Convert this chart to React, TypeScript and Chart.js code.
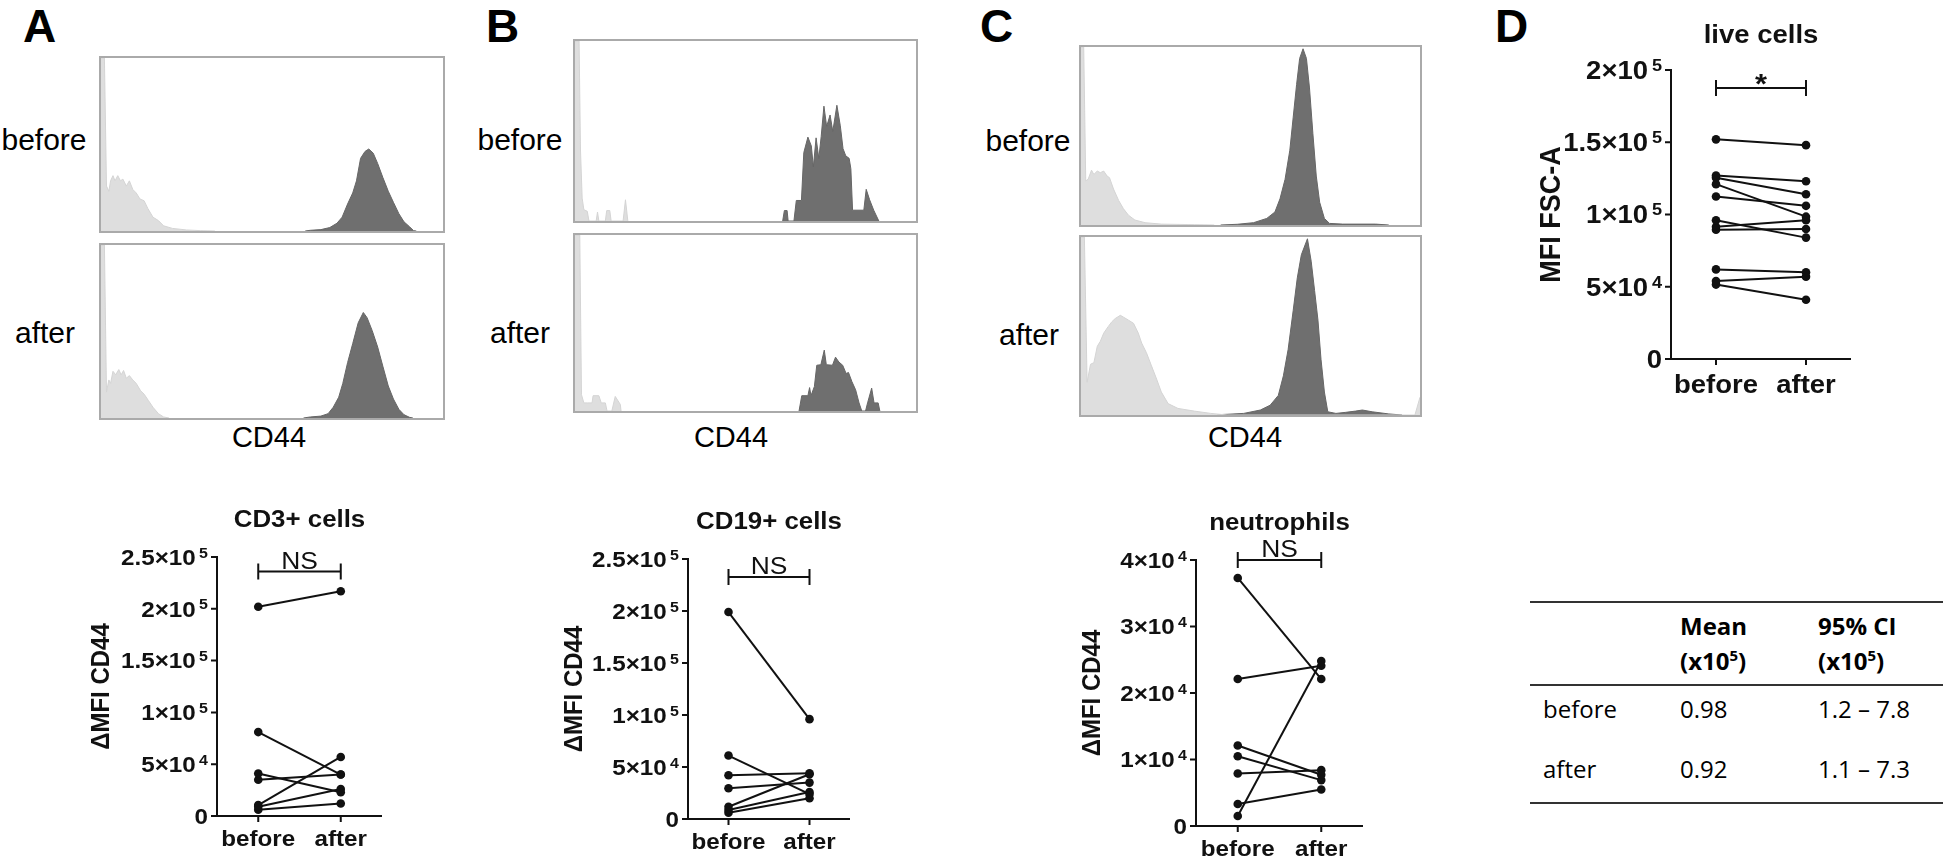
import React, { useEffect, useRef } from "react";
import { Chart, registerables } from "chart.js";

Chart.register(...registerables);

// ---------------- DATA ----------------
const categories = ["before", "after"];

// Panel A – CD3+ cells (ΔMFI CD44)
const cd3Before = [202000, 81000, 41000, 35000, 10500, 9000, 6000];
const cd3After = [217000, 40000, 23000, 40000, 57000, 26000, 12000];
// Panel B – CD19+ cells
const cd19Before = [199000, 61000, 42000, 29500, 11800, 8700, 6000];
const cd19After = [96000, 24000, 44000, 35000, 43000, 26000, 20000];
// Panel C – neutrophils
const neutBefore = [37300, 22100, 12100, 10500, 7900, 3300, 1500];
const neutAfter = [22100, 24100, 7700, 6900, 8400, 5500, 24800];
// Panel D – live cells (MFI FSC-A)
const liveBefore = [152000, 127000, 125500, 121000, 112500, 96000, 91500, 89500, 62000, 54000, 51500];
const liveAfter = [148000, 123000, 114000, 98500, 106000, 84000, 96000, 90000, 60000, 57000, 41000];

const ticks250k = [0, 50000, 100000, 150000, 200000, 250000];
const tickLabels250k = ["0", "5×10⁴", "1×10⁵", "1.5×10⁵", "2×10⁵", "2.5×10⁵"];
const ticks40k = [0, 10000, 20000, 30000, 40000];
const tickLabels40k = ["0", "1×10⁴", "2×10⁴", "3×10⁴", "4×10⁴"];
const ticks200k = [0, 50000, 100000, 150000, 200000];
const tickLabels200k = ["0", "5×10⁴", "1×10⁵", "1.5×10⁵", "2×10⁵"];

// significance brackets (value on y axis, label)
const sigCD3 = { value: 236000, label: "NS" };
const sigCD19 = { value: 232700, label: "NS" };
const sigNeut = { value: 40000, label: "NS" };
const sigLive = { value: 187500, label: "*" };

// Histograms: [channel (0..1000), % of max]
const histABeforeCtrl = [[0,100],[10,100],[16,26],[23,23],[28,29],[35,32],[41,29],[49,32],[57,29],[64,30],[74,26],[83,29],[93,24],[103,22],[114,18.5],[126,17.5],[137,13],[152,8],[168,6],[183,3],[209,1.5],[250,0.6],[292,0.2],[333,0]];
const histABeforeCD44 = [[597,0],[612,0.4],[643,0.8],[669,2],[690,4.5],[705,8],[721,15.6],[736,22],[747,29],[759,42],[772,46],[783,47.4],[796,45],[809,39],[824,31],[840,23],[855,16.6],[871,10],[886,5.3],[902,2.5],[914,0.2],[922,0]];
const histAAfterCtrl = [[0,100],[10,100],[16,15],[23,22],[28,20],[35,27],[43,25],[52,28],[59,25],[66,27.5],[74,23],[83,24.5],[93,22],[103,20],[116,15.7],[126,13.8],[139,10],[152,6.2],[168,2.5],[183,0.6],[199,0]];
const histAAfterCD44 = [[592,0],[612,0.6],[643,1.1],[664,2.5],[679,6.2],[695,12],[707,20],[721,32],[736,43],[752,55],[767,61],[778,58],[793,50.5],[809,41],[824,30],[840,18.5],[855,11],[871,5],[886,1.9],[902,0.4],[912,0]];

const histBBeforeCtrl = [[0,100],[12,100],[16,40],[21,12.7],[26,6.3],[36,5.4],[41,0],[62,0],[66,5],[70,0],[89,0],[93,5.8],[102,5.8],[106,0],[141,0],[148,11.8],[155,0]];
const histBBeforeCD44 = [[609,0],[614,5.8],[622,5.8],[625,0],[642,0],[649,11.4],[664,11.4],[671,38],[683,46.6],[693,41.7],[699,30],[707,46.2],[715,34.8],[722,47],[730,63.8],[738,52.5],[748,58.9],[756,49.8],[768,64.3],[778,52.9],[786,40.2],[794,36.2],[804,34.8],[809,29],[814,6],[847,6],[854,17.6],[864,11.8],[876,6],[891,0]];
const histBAfterCtrl = [[0,100],[14,100],[19,9.3],[26,4.6],[36,4.6],[50,4.6],[53,8.7],[70,8.7],[77,4.6],[89,4.6],[94,0],[108,0],[118,8.3],[133,3.7],[135,0]];
const histBAfterCD44 = [[657,0],[665,8.7],[683,8.7],[688,13.3],[692,8.7],[702,13.9],[709,26],[721,26.3],[731,34.6],[737,26.3],[755,26],[764,30.6],[774,27.8],[785,26],[795,21.3],[802,21.9],[812,16.7],[823,12],[833,4.6],[841,0],[852,0],[858,4.6],[870,13],[877,4.6],[889,4.6],[894,0]];

const histCBeforeCtrl = [[0,100],[8,100],[14,24.8],[21,25.7],[31,30.8],[38,28.4],[48,30.3],[57,29.4],[67,30.3],[77,27.5],[84,26.6],[96,20.2],[111,13.8],[125,9.2],[140,5.5],[159,2.8],[189,1.3],[237,0.5],[334,0.2],[393,0]];
const histCBeforeCD44 = [[412,0],[461,0.4],[509,1.3],[548,3.7],[572,7.3],[587,14.7],[602,25.7],[616,42],[626,60.6],[636,79],[645,93.6],[655,99],[665,93.6],[674,77],[684,51.4],[694,27.5],[704,12.8],[718,3.7],[733,0.9],[772,0.5],[869,0.5],[908,0]];
const histCAfterCtrl = [[0,100],[10,100],[18,18.4],[28,28.5],[38,29.4],[48,38.6],[57,41.4],[67,46],[80,49.6],[91,52.4],[101,54.2],[116,56],[125,55],[140,53.3],[155,51.5],[169,46],[179,40.4],[193,35],[208,27.6],[223,20.2],[237,12.9],[257,6.4],[286,3.7],[334,2.2],[383,0.9],[431,0],[985,0],[1000,10]];
const histCAfterCD44 = [[378,0],[431,0.4],[480,0.9],[529,2.8],[558,5.5],[582,11],[597,22],[611,36.8],[626,58.8],[638,77],[650,90],[668,99],[679,86.4],[689,70],[699,53.3],[708,31.3],[718,12.9],[728,1.8],[752,0.9],[781,1.5],[810,2.2],[830,2.8],[859,1.8],[908,0.6],[947,0]];

// ---------------- STYLE HELPERS ----------------
const FONT = '"Liberation Sans", Arial, Helvetica, sans-serif';
const SX = 1.1;
const SUP: Record<string, string> = { "⁰": "0", "¹": "1", "²": "2", "³": "3", "⁴": "4", "⁵": "5", "⁶": "6", "⁷": "7", "⁸": "8", "⁹": "9" };
const bold = (s: number) => `bold ${s}px ${FONT}`;
const reg = (s: number) => `${s}px ${FONT}`;

function drawText(ctx: any, s: string, x: number, y: number, font: string, align: string) {
  ctx.save();
  ctx.font = font;
  const w = ctx.measureText(s).width * SX;
  const left = align === "center" ? x - w / 2 : align === "right" ? x - w : x;
  ctx.translate(left, y);
  ctx.scale(SX, 1);
  ctx.textAlign = "left";
  ctx.textBaseline = "alphabetic";
  ctx.fillText(s, 0, 0);
  ctx.restore();
}

function drawSupLabel(ctx: any, label: string, xr: number, yc: number, size: number) {
  let i = label.length;
  while (i > 0 && SUP[label[i - 1]]) i--;
  const base = label.slice(0, i);
  const sup = label.slice(i).split("").map((c) => SUP[c]).join("");
  const supSize = size * 0.66;
  ctx.save();
  ctx.font = bold(size);
  const wb = ctx.measureText(base).width;
  ctx.font = bold(supSize);
  const ws = sup ? ctx.measureText(sup).width : 0;
  const gap = sup ? size * 0.14 : 0;
  const total = (wb + gap + ws) * SX;
  const capH = size * 0.716;
  ctx.translate(xr - total, 0);
  ctx.scale(SX, 1);
  ctx.textAlign = "left";
  ctx.textBaseline = "alphabetic";
  ctx.font = bold(size);
  ctx.fillText(base, 0, yc + capH / 2);
  if (sup) {
    ctx.font = bold(supSize);
    ctx.fillText(sup, wb + gap, yc - capH / 2 - 2 + supSize * 0.716);
  }
  ctx.restore();
}

function makePrism(cfg: any) {
  return {
    id: "prism",
    beforeDatasetsDraw(chart: any) {
      const { ctx, chartArea: ca, scales } = chart;
      const xs = scales.x;
      const ys = scales.y;
      const sz = cfg.sz;
      ctx.save();
      ctx.strokeStyle = "#111";
      ctx.fillStyle = "#111";
      ctx.lineWidth = 2;
      const yTop = ys.getPixelForValue(cfg.ticks[cfg.ticks.length - 1]);
      ctx.beginPath();
      ctx.moveTo(ca.left, yTop - 1);
      ctx.lineTo(ca.left, ca.bottom + 1);
      ctx.moveTo(ca.left - 1, ca.bottom);
      ctx.lineTo(ca.right, ca.bottom);
      cfg.ticks.forEach((v: number) => {
        const py = ys.getPixelForValue(v);
        ctx.moveTo(ca.left - 6, py);
        ctx.lineTo(ca.left, py);
      });
      categories.forEach((_c, i) => {
        const px = xs.getPixelForValue(i);
        ctx.moveTo(px, ca.bottom);
        ctx.lineTo(px, ca.bottom + 6);
      });
      ctx.stroke();
      cfg.ticks.forEach((v: number, i: number) => {
        drawSupLabel(ctx, cfg.tickLabels[i], ca.left - 9, ys.getPixelForValue(v), sz.tick);
      });
      categories.forEach((c, i) => {
        drawText(ctx, c, xs.getPixelForValue(i), ca.bottom + cfg.xLabelGap, bold(sz.xlab), "center");
      });
      const mid = (xs.getPixelForValue(0) + xs.getPixelForValue(1)) / 2;
      drawText(ctx, cfg.title, mid, ca.top - cfg.titleGap, bold(sz.title), "center");
      // y title
      ctx.save();
      ctx.translate(ca.left - cfg.yTitleOffset, (ca.top + ca.bottom) / 2);
      ctx.rotate(-Math.PI / 2);
      ctx.scale(1, SX);
      ctx.font = bold(sz.ytitle);
      ctx.textAlign = "center";
      ctx.textBaseline = "middle";
      ctx.fillText(cfg.yTitle, 0, 0);
      ctx.restore();
      // significance bracket
      const sy = ys.getPixelForValue(cfg.sig.value);
      const x0 = xs.getPixelForValue(0);
      const x1 = xs.getPixelForValue(1);
      ctx.beginPath();
      ctx.moveTo(x0, sy);
      ctx.lineTo(x1, sy);
      ctx.moveTo(x0, sy - 8);
      ctx.lineTo(x0, sy + 8);
      ctx.moveTo(x1, sy - 8);
      ctx.lineTo(x1, sy + 8);
      ctx.stroke();
      ctx.font = cfg.sigFont;
      const m = ctx.measureText(cfg.sig.label);
      drawText(ctx, cfg.sig.label, mid, sy - 3 - m.actualBoundingBoxDescent, cfg.sigFont, "center");
      ctx.restore();
    },
  };
}

function dotConfig(before: number[], after: number[], lay: any, cfg: any) {
  return {
    type: "line",
    data: {
      datasets: before.map((b, i) => ({
        data: [
          { x: 0, y: b },
          { x: 1, y: after[i] },
        ],
        borderColor: "#111",
        backgroundColor: "#111",
        pointBackgroundColor: "#111",
        pointBorderColor: "#111",
        borderWidth: 2,
        pointRadius: 4.3,
        pointHoverRadius: 4.3,
        pointBorderWidth: 0,
        tension: 0,
        fill: false,
        clip: false,
      })),
    },
    options: {
      responsive: false,
      maintainAspectRatio: false,
      animation: false,
      events: [],
      layout: {
        padding: {
          left: lay.axisLeft - lay.left,
          right: lay.left + lay.width - lay.axisRight,
          top: lay.axisTop - lay.top,
          bottom: lay.top + lay.height - lay.axisBottom,
        },
      },
      scales: {
        x: { type: "linear", min: -0.5, max: 1.5, display: false },
        y: { type: "linear", min: 0, max: cfg.ticks[cfg.ticks.length - 1], display: false },
      },
      plugins: { legend: { display: false }, tooltip: { enabled: false }, title: { display: false } },
    },
    plugins: [makePrism(cfg)],
  };
}

function histConfig(ctrl: number[][], stain: number[][]) {
  const ds = (pts: number[][], fillC: string, lineC: string) => ({
    data: pts.map(([x, y]) => ({ x, y })),
    fill: "origin",
    backgroundColor: fillC,
    borderColor: lineC,
    borderWidth: 1,
    pointRadius: 0,
    tension: 0,
  });
  return {
    type: "line",
    data: { datasets: [ds(ctrl, "#dedede", "#d4d4d4"), ds(stain, "#6f6f6f", "#666666")] },
    options: {
      responsive: false,
      maintainAspectRatio: false,
      animation: false,
      events: [],
      layout: { padding: 0 },
      scales: {
        x: { type: "linear", min: 0, max: 1000, display: false },
        y: { type: "linear", min: 0, max: 100, display: false },
      },
      plugins: { legend: { display: false }, tooltip: { enabled: false } },
    },
  };
}

function ChartCanvas({ left, top, width, height, config }: any) {
  const ref = useRef<HTMLCanvasElement | null>(null);
  useEffect(() => {
    const c = new Chart(ref.current as any, config);
    return () => c.destroy();
  }, []);
  return (
    <canvas
      ref={ref}
      width={width}
      height={height}
      style={{ position: "absolute", left, top, width, height }}
    />
  );
}

function HistBox({ left, top, width, height, ctrl, stain }: any) {
  const bw = 2;
  return (
    <div
      style={{
        position: "absolute",
        left,
        top,
        width,
        height,
        border: `${bw}px solid #aaaaaa`,
        boxSizing: "border-box",
      }}
    >
      <ChartCanvas left={0} top={0} width={width - 2 * bw} height={height - 2 * bw} config={histConfig(ctrl, stain)} />
    </div>
  );
}

function Txt({ x, y, size, weight = 400, align = "left", family = FONT, asc = 0.8465, children }: any) {
  return (
    <div
      style={{
        position: "absolute",
        left: x,
        top: y - asc * size,
        fontSize: size,
        lineHeight: `${size}px`,
        fontWeight: weight,
        fontFamily: family,
        whiteSpace: "nowrap",
        color: "#000",
        transform: align === "center" ? "translateX(-50%)" : undefined,
      }}
    >
      {children}
    </div>
  );
}

const szABC = { tick: 22, xlab: 22, title: 23.5, ytitle: 24 };
const szD = { tick: 25, xlab: 25, title: 25, ytitle: 27 };

const layA = { left: 60, top: 495, width: 340, height: 365, axisLeft: 217, axisRight: 382, axisTop: 557, axisBottom: 816 };
const layB = { left: 545, top: 495, width: 325, height: 365, axisLeft: 688, axisRight: 850, axisTop: 559, axisBottom: 819 };
const layC = { left: 1030, top: 495, width: 350, height: 365, axisLeft: 1196, axisRight: 1363, axisTop: 560, axisBottom: 826 };
const layD = { left: 1520, top: 0, width: 350, height: 420, axisLeft: 1671, axisRight: 1851, axisTop: 70, axisBottom: 359 };

const cfgA = { ticks: ticks250k, tickLabels: tickLabels250k, title: "CD3+ cells", yTitle: "ΔMFI CD44", sig: sigCD3, sz: szABC, xLabelGap: 30, titleGap: 30, yTitleOffset: 115, sigFont: reg(24) };
const cfgB = { ticks: ticks250k, tickLabels: tickLabels250k, title: "CD19+ cells", yTitle: "ΔMFI CD44", sig: sigCD19, sz: szABC, xLabelGap: 30, titleGap: 30, yTitleOffset: 113, sigFont: reg(24) };
const cfgC = { ticks: ticks40k, tickLabels: tickLabels40k, title: "neutrophils", yTitle: "ΔMFI CD44", sig: sigNeut, sz: szABC, xLabelGap: 30, titleGap: 30, yTitleOffset: 103, sigFont: reg(24) };
const cfgD = { ticks: ticks200k, tickLabels: tickLabels200k, title: "live cells", yTitle: "MFI FSC-A", sig: sigLive, sz: szD, xLabelGap: 34, titleGap: 27, yTitleOffset: 119, sigFont: bold(28) };

const OPEN = '"Open Sans", "Liberation Sans", sans-serif';
const supStyle: any = { fontSize: 15, position: "relative", top: -9 };

export default function App() {
  return (
    <div style={{ position: "fixed", left: 0, top: 0, width: 1943, height: 860, background: "#fff", overflow: "hidden" }}>
      {/* panel letters */}
      <Txt x={23} y={42} size={46} weight={700}>A</Txt>
      <Txt x={486} y={42} size={46} weight={700}>B</Txt>
      <Txt x={980} y={42} size={46} weight={700}>C</Txt>
      <Txt x={1495} y={42} size={46} weight={700}>D</Txt>

      {/* histogram row labels */}
      <Txt x={44} y={150} size={30} align="center">before</Txt>
      <Txt x={45} y={343} size={30} align="center">after</Txt>
      <Txt x={520} y={150} size={30} align="center">before</Txt>
      <Txt x={520} y={343} size={30} align="center">after</Txt>
      <Txt x={1028} y={151} size={30} align="center">before</Txt>
      <Txt x={1029} y={345} size={30} align="center">after</Txt>
      <Txt x={269} y={448} size={29} align="center">CD44</Txt>
      <Txt x={731} y={448} size={29} align="center">CD44</Txt>
      <Txt x={1245} y={448} size={29} align="center">CD44</Txt>

      {/* histograms */}
      <HistBox left={99} top={56} width={346} height={177} ctrl={histABeforeCtrl} stain={histABeforeCD44} />
      <HistBox left={99} top={243} width={346} height={177} ctrl={histAAfterCtrl} stain={histAAfterCD44} />
      <HistBox left={573} top={39} width={345} height={184} ctrl={histBBeforeCtrl} stain={histBBeforeCD44} />
      <HistBox left={573} top={233} width={345} height={180} ctrl={histBAfterCtrl} stain={histBAfterCD44} />
      <HistBox left={1079} top={45} width={343} height={182} ctrl={histCBeforeCtrl} stain={histCBeforeCD44} />
      <HistBox left={1079} top={235} width={343} height={182} ctrl={histCAfterCtrl} stain={histCAfterCD44} />

      {/* paired dot plots */}
      <ChartCanvas left={layA.left} top={layA.top} width={layA.width} height={layA.height} config={dotConfig(cd3Before, cd3After, layA, cfgA)} />
      <ChartCanvas left={layB.left} top={layB.top} width={layB.width} height={layB.height} config={dotConfig(cd19Before, cd19After, layB, cfgB)} />
      <ChartCanvas left={layC.left} top={layC.top} width={layC.width} height={layC.height} config={dotConfig(neutBefore, neutAfter, layC, cfgC)} />
      <ChartCanvas left={layD.left} top={layD.top} width={layD.width} height={layD.height} config={dotConfig(liveBefore, liveAfter, layD, cfgD)} />

      {/* table */}
      <div style={{ position: "absolute", left: 1530, top: 601, width: 413, height: 2, background: "#333" }} />
      <div style={{ position: "absolute", left: 1530, top: 684, width: 413, height: 2, background: "#333" }} />
      <div style={{ position: "absolute", left: 1530, top: 802, width: 413, height: 2, background: "#333" }} />
      <Txt x={1680} y={635} size={24} weight={700} family={OPEN} asc={0.888}>Mean</Txt>
      <Txt x={1680} y={670} size={24} weight={700} family={OPEN} asc={0.888}>(x10<span style={supStyle}>5</span>)</Txt>
      <Txt x={1818} y={635} size={24} weight={700} family={OPEN} asc={0.888}>95% CI</Txt>
      <Txt x={1818} y={670} size={24} weight={700} family={OPEN} asc={0.888}>(x10<span style={supStyle}>5</span>)</Txt>
      <Txt x={1543} y={718} size={24} family={OPEN} asc={0.888}>before</Txt>
      <Txt x={1680} y={718} size={24} family={OPEN} asc={0.888}>0.98</Txt>
      <Txt x={1818} y={718} size={24} family={OPEN} asc={0.888}>1.2 – 7.8</Txt>
      <Txt x={1543} y={778} size={24} family={OPEN} asc={0.888}>after</Txt>
      <Txt x={1680} y={778} size={24} family={OPEN} asc={0.888}>0.92</Txt>
      <Txt x={1818} y={778} size={24} family={OPEN} asc={0.888}>1.1 – 7.3</Txt>
    </div>
  );
}
